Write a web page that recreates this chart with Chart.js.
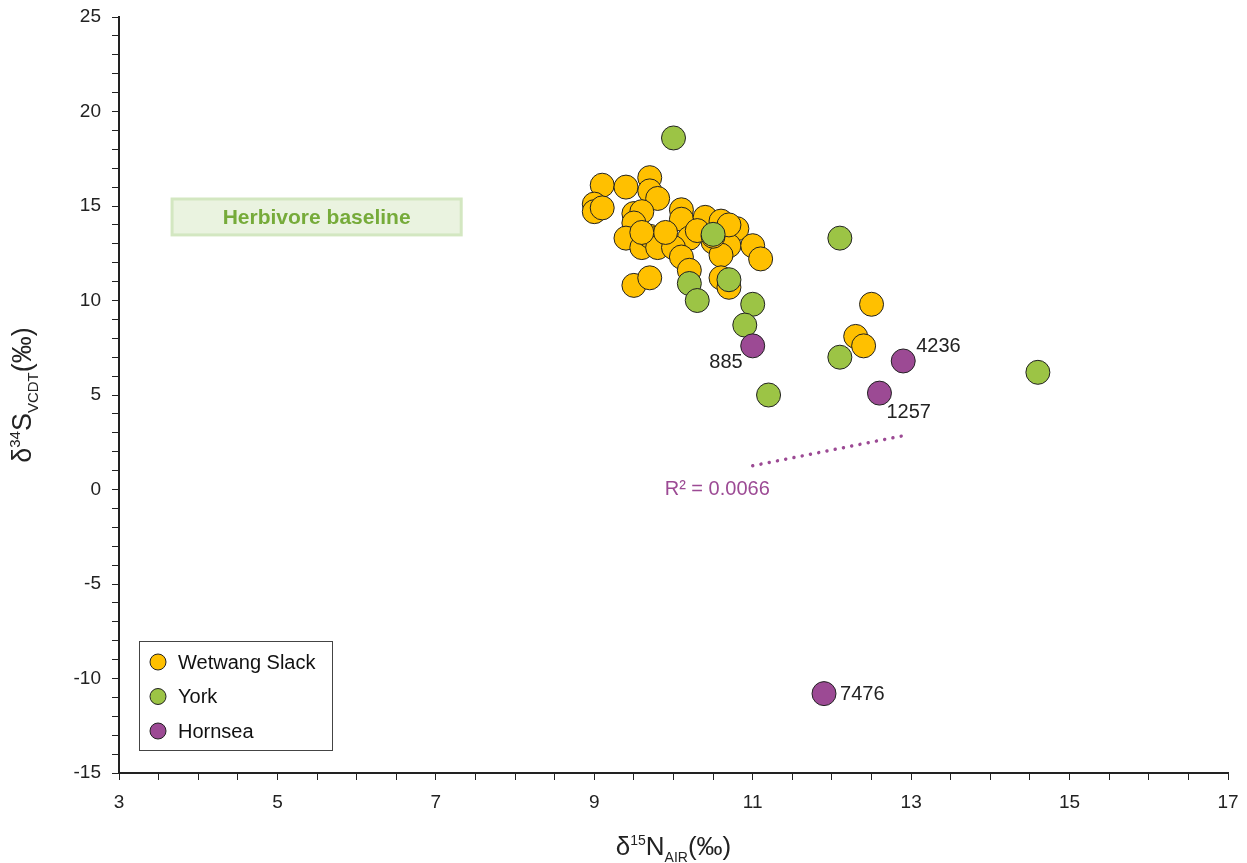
<!DOCTYPE html>
<html lang="en">
<head>
    <meta charset="UTF-8">
    <title>δ34S vs δ15N</title>
    <style>
        html, body {
            margin: 0;
            padding: 0;
            background: #ffffff;
            overflow: hidden;
        }
        canvas {
            display: block;
        }
    </style>
</head>
<body>
    <canvas id="isoChart" width="1247" height="863"></canvas>

    <script src="https://cdn.jsdelivr.net/npm/chart.js"></script>
    <script>
        // axis ranges and tick labels
        const xRange = [3, 17];
        const yRange = [-15, 25];
        const xTickLabels = ['3', '5', '7', '9', '11', '13', '15', '17'];
        const yTickLabels = ['-15', '-10', '-5', '0', '5', '10', '15', '20', '25'];

        // Wetwang Slack: δ15N, δ34S
        const wetwangN = [9.1, 9.4, 9.7, 9.7, 9.8, 9.0, 9.0, 9.1, 9.5, 9.6, 9.5, 9.4, 9.6, 9.7, 9.8, 9.8,
                          9.5, 9.7, 10.1, 10.1, 10.4, 10.6, 10.8, 10.2, 10.0, 10.1, 10.5, 10.7, 10.6, 11.0,
                          11.1, 10.2, 10.6, 10.7, 12.5, 12.3, 12.4, 9.9, 10.3, 10.5, 9.6, 10.7];
        const wetwangS = [16.1, 16.0, 16.5, 15.8, 15.4, 15.1, 14.7, 14.9, 14.6, 14.7, 14.1, 13.3, 12.8, 13.4, 13.3, 12.8,
                          10.8, 11.2, 14.8, 14.3, 14.4, 14.2, 13.8, 13.3, 12.8, 12.3, 13.1, 12.9, 12.4, 12.9,
                          12.2, 11.6, 11.2, 10.7, 9.8, 8.1, 7.6, 13.6, 13.7, 13.4, 13.6, 14.0];

        // York
        const yorkN = [10.0, 12.1, 10.5, 10.2, 10.3, 10.7, 11.0, 10.9, 11.2, 12.1, 14.6];
        const yorkS = [18.6, 13.3, 13.5, 10.9, 10.0, 11.1, 9.8, 8.7, 5.0, 7.0, 6.2];

        // Hornsea (sample ids shown next to points)
        const hornseaN = [11.0, 12.9, 12.6, 11.9];
        const hornseaS = [7.6, 6.8, 5.1, -10.8];
        const hornseaIds = ['885', '4236', '1257', '7476'];
        const hornseaR2 = 'R² = 0.0066';

        const seriesNames = ['Wetwang Slack', 'York', 'Hornsea'];
        const seriesColors = ['#FFC000', '#9CC445', '#9C4A94'];

        // herbivore baseline box (data units)
        const baselineX = [3.67, 7.32];
        const baselineY = [13.47, 15.37];
        const baselineText = 'Herbivore baseline';

        function toPoints(xs, ys) {
            return xs.map((x, i) => ({ x: x, y: ys[i] }));
        }

        // least squares line through the Hornsea points
        function trendLine(xs, ys) {
            const n = xs.length;
            const mx = xs.reduce((a, b) => a + b, 0) / n;
            const my = ys.reduce((a, b) => a + b, 0) / n;
            let sxy = 0, sxx = 0;
            for (let i = 0; i < n; i++) {
                sxy += (xs[i] - mx) * (ys[i] - my);
                sxx += (xs[i] - mx) * (xs[i] - mx);
            }
            const slope = sxy / sxx;
            const x0 = Math.min(...xs), x1 = Math.max(...xs);
            return [
                { x: x0, y: my + slope * (x0 - mx) },
                { x: x1, y: my + slope * (x1 - mx) }
            ];
        }

        const trend = trendLine(hornseaN, hornseaS);

        // label placement next to the Hornsea points: dx, dy, align
        const idPlacement = [
            [-10, 17, 'right'],
            [13, -14, 'left'],
            [7, 19, 'left'],
            [16, 1, 'left']
        ];

        const FONT = '"Liberation Sans", Arial, sans-serif';

        // extra drawing: baseline box, labels, legend, axis titles
        const decorPlugin = {
            id: 'decor',
            beforeDatasetsDraw(chart) {
                const ctx = chart.ctx;
                const xs = chart.scales.x, ys = chart.scales.y;
                const left = xs.getPixelForValue(baselineX[0]);
                const right = xs.getPixelForValue(baselineX[1]);
                const top = ys.getPixelForValue(baselineY[1]);
                const bottom = ys.getPixelForValue(baselineY[0]);
                ctx.save();
                ctx.fillStyle = '#EAF3E0';
                ctx.fillRect(left, top, right - left, bottom - top);
                ctx.strokeStyle = '#D3E7C1';
                ctx.lineWidth = 3;
                ctx.strokeRect(left, top, right - left, bottom - top);
                ctx.fillStyle = '#76AB3A';
                ctx.font = 'bold 21px ' + FONT;
                ctx.textAlign = 'center';
                ctx.textBaseline = 'middle';
                ctx.fillText(baselineText, (left + right) / 2, (top + bottom) / 2 + 1);
                ctx.restore();
            },
            afterDraw(chart) {
                const ctx = chart.ctx;
                const xs = chart.scales.x, ys = chart.scales.y;
                ctx.save();

                // sample ids
                ctx.font = '20px ' + FONT;
                ctx.fillStyle = '#222';
                ctx.textBaseline = 'middle';
                hornseaIds.forEach((id, i) => {
                    const px = xs.getPixelForValue(hornseaN[i]);
                    const py = ys.getPixelForValue(hornseaS[i]);
                    const p = idPlacement[i];
                    ctx.textAlign = p[2];
                    ctx.fillText(id, px + p[0], py + p[1]);
                });

                // R² text under the trend line start
                ctx.fillStyle = seriesColors[2];
                ctx.textAlign = 'left';
                ctx.fillText(hornseaR2, xs.getPixelForValue(trend[0].x) - 88,
                             ys.getPixelForValue(trend[0].y) + 24);

                // legend box
                const lx = 139, ly = 641, lw = 193, lh = 109;
                ctx.fillStyle = '#fff';
                ctx.fillRect(lx, ly, lw, lh);
                ctx.strokeStyle = '#444';
                ctx.lineWidth = 1;
                ctx.strokeRect(lx + 0.5, ly + 0.5, lw, lh);
                seriesNames.forEach((name, i) => {
                    const cy = ly + 21 + i * 34.5;
                    ctx.beginPath();
                    ctx.arc(lx + 19, cy, 8, 0, Math.PI * 2);
                    ctx.fillStyle = seriesColors[i];
                    ctx.fill();
                    ctx.strokeStyle = '#222';
                    ctx.stroke();
                    ctx.fillStyle = '#111';
                    ctx.font = '20px ' + FONT;
                    ctx.textAlign = 'left';
                    ctx.fillText(name, lx + 39, cy + 1);
                });

                // axis titles with super/subscripts
                function drawTitle(parts, cx, cy, rotate) {
                    ctx.save();
                    ctx.translate(cx, cy);
                    if (rotate) ctx.rotate(-Math.PI / 2);
                    ctx.fillStyle = '#222';
                    ctx.textAlign = 'left';
                    ctx.textBaseline = 'alphabetic';
                    let total = 0;
                    parts.forEach(p => {
                        ctx.font = p.size + 'px ' + FONT;
                        p.w = ctx.measureText(p.t).width;
                        total += p.w;
                    });
                    let x = -total / 2;
                    parts.forEach(p => {
                        ctx.font = p.size + 'px ' + FONT;
                        ctx.fillText(p.t, x, 9 + p.dy);
                        x += p.w;
                    });
                    ctx.restore();
                }
                drawTitle([
                    { t: 'δ', size: 26, dy: 0 },
                    { t: '15', size: 14, dy: -10 },
                    { t: 'N', size: 26, dy: 0 },
                    { t: 'AIR', size: 14, dy: 7 },
                    { t: '(‰)', size: 26, dy: 0 }
                ], (chart.chartArea.left + chart.chartArea.right) / 2, 846, false);
                drawTitle([
                    { t: 'δ', size: 27, dy: 0 },
                    { t: '34', size: 15, dy: -11 },
                    { t: 'S', size: 27, dy: 0 },
                    { t: 'VCDT', size: 15, dy: 7 },
                    { t: '(‰)', size: 27, dy: 0 }
                ], 22, (chart.chartArea.top + chart.chartArea.bottom) / 2, true);

                ctx.restore();
            }
        };

        const pointStyle = (i) => ({
            backgroundColor: seriesColors[i],
            borderColor: '#222',
            borderWidth: 1,
            pointRadius: 12
        });

        new Chart(document.getElementById('isoChart'), {
            type: 'scatter',
            data: {
                datasets: [
                    Object.assign({ label: seriesNames[0], data: toPoints(wetwangN, wetwangS), order: 3 }, pointStyle(0)),
                    Object.assign({ label: seriesNames[1], data: toPoints(yorkN, yorkS), order: 2 }, pointStyle(1)),
                    Object.assign({ label: seriesNames[2], data: toPoints(hornseaN, hornseaS), order: 1 }, pointStyle(2)),
                    {
                        label: 'trend',
                        data: trend,
                        showLine: true,
                        pointRadius: 0,
                        borderColor: seriesColors[2],
                        borderWidth: 3.5,
                        borderDash: [0.01, 8.4],
                        borderCapStyle: 'round',
                        order: 4
                    }
                ]
            },
            options: {
                responsive: false,
                animation: false,
                events: [],
                layout: { padding: { top: 17, right: 19, left: 0, bottom: 0 } },
                scales: {
                    x: {
                        type: 'linear',
                        min: xRange[0],
                        max: xRange[1],
                        afterFit(scale) {
                            scale.height = 90;
                            scale.paddingLeft = 0;
                            scale.paddingRight = 0;
                        },
                        border: { display: true, color: '#222', width: 2 },
                        grid: {
                            drawOnChartArea: false,
                            drawTicks: true,
                            tickLength: 7,
                            color: '#222',
                            lineWidth: 1
                        },
                        ticks: {
                            stepSize: 0.5,
                            autoSkip: false,
                            maxRotation: 0,
                            padding: 11,
                            color: '#222',
                            font: { family: FONT, size: 19 },
                            callback(v) {
                                const s = String(v);
                                return xTickLabels.includes(s) ? s : '';
                            }
                        }
                    },
                    y: {
                        type: 'linear',
                        min: yRange[0],
                        max: yRange[1],
                        afterFit(scale) {
                            scale.width = 119;
                            scale.paddingTop = 0;
                            scale.paddingBottom = 0;
                        },
                        border: { display: true, color: '#222', width: 2 },
                        grid: {
                            drawOnChartArea: false,
                            drawTicks: true,
                            tickLength: 7,
                            color: '#222',
                            lineWidth: 1
                        },
                        ticks: {
                            stepSize: 1,
                            autoSkip: false,
                            padding: 11,
                            color: '#222',
                            font: { family: FONT, size: 19 },
                            callback(v) {
                                const s = String(v);
                                return yTickLabels.includes(s) ? s : '';
                            }
                        }
                    }
                },
                plugins: {
                    legend: { display: false },
                    tooltip: { enabled: false }
                }
            },
            plugins: [decorPlugin]
        });
    </script>
</body>
</html>
